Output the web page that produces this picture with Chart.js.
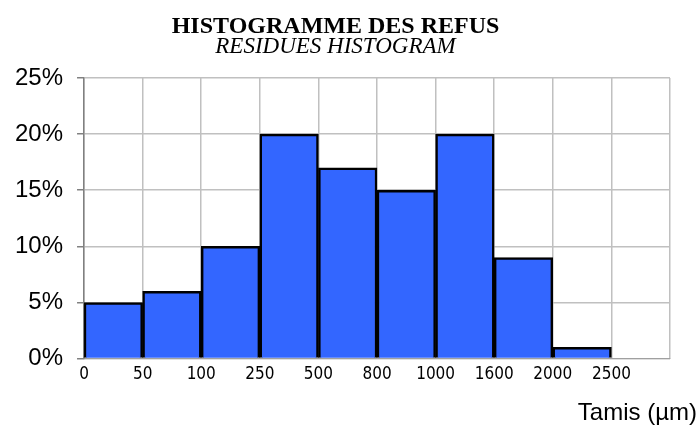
<!DOCTYPE html>
<html lang="fr">
<head>
    <meta charset="UTF-8">
    <title>Histogramme des refus</title>
    <style>
        body {
            margin: 0;
            background: white;
        }
    </style>
</head>
<body>
<canvas id="histo" width="696" height="427"></canvas>

<script src="https://cdn.jsdelivr.net/npm/chart.js"></script>
<script>
    // Tamis (bornes des classes) et refus en %
    const tamis = ['0', '50', '100', '250', '500', '800', '1000', '1600', '2000', '2500'];
    const refus = [5, 6, 10, 20, 17, 15, 20, 9, 1];
    const graduations = [0, 5, 10, 15, 20, 25];
    const titreAxeX = 'Tamis (µm)';

    const points = refus.map((v, i) => ({ x: i + 0.5, y: v }));

    // titre de l'axe X, cale tout à droite comme sur le modele
    const titreTamis = {
        id: 'titreTamis',
        afterDraw(chart) {
            const ctx = chart.ctx;
            ctx.save();
            ctx.font = '24px "Liberation Sans"';
            ctx.fillStyle = '#000';
            ctx.textAlign = 'right';
            ctx.textBaseline = 'middle';
            ctx.fillText(titreAxeX, 697, 413);
            ctx.restore();
        }
    };

    new Chart(document.getElementById('histo'), {
        type: 'bar',
        data: {
            datasets: [{
                label: 'Refus',
                data: points,
                backgroundColor: '#3366ff',
                borderColor: '#000000',
                borderWidth: 2.5,
                barPercentage: 1,
                categoryPercentage: 1,
                borderSkipped: 'bottom'
            }]
        },
        options: {
            responsive: false,
            animation: false,
            layout: { padding: { left: 1, right: 26, top: 0, bottom: 36 } },
            plugins: {
                legend: { display: false },
                tooltip: { enabled: false },
                title: {
                    display: true,
                    text: 'HISTOGRAMME DES REFUS',
                    color: '#000',
                    font: { family: 'Liberation Serif', size: 24, weight: 'bold', lineHeight: 0.85 },
                    padding: { top: 17, bottom: 0 }
                },
                subtitle: {
                    display: true,
                    text: 'RESIDUES HISTOGRAM',
                    color: '#000',
                    font: { family: 'Liberation Serif', size: 23, style: 'italic', lineHeight: 0.85 },
                    padding: { top: 0, bottom: 21 }
                }
            },
            scales: {
                x: {
                    type: 'linear',
                    min: 0,
                    max: tamis.length,
                    offset: false,
                    afterBuildTicks: (axis) => {
                        axis.ticks = tamis.map((t, i) => ({ value: i }));
                        axis.ticks.push({ value: tamis.length });
                    },
                    ticks: {
                        autoSkip: false,
                        maxRotation: 0,
                        color: '#000',
                        font: { family: '"Liberation Sans Narrow", "DejaVu Sans Condensed", "Liberation Sans"', size: 17 },
                        padding: 6,
                        callback: (v) => tamis[v] ?? ''
                    },
                    grid: { offset: false, color: '#c0c0c0', lineWidth: 1.5, drawTicks: false },
                    border: { color: '#a0a0a0' }
                },
                y: {
                    min: 0,
                    max: 25,
                    afterBuildTicks: (axis) => {
                        axis.ticks = graduations.map(g => ({ value: g }));
                    },
                    ticks: {
                        color: '#000',
                        font: { family: 'Liberation Sans', size: 24 },
                        padding: 14,
                        callback: (v) => v + '%'
                    },
                    grid: { color: '#c0c0c0', lineWidth: 1.5, tickLength: 7, tickColor: '#808080' },
                    border: { color: '#808080', width: 1.5 }
                }
            }
        },
        plugins: [titreTamis]
    });
</script>
</body>
</html>
